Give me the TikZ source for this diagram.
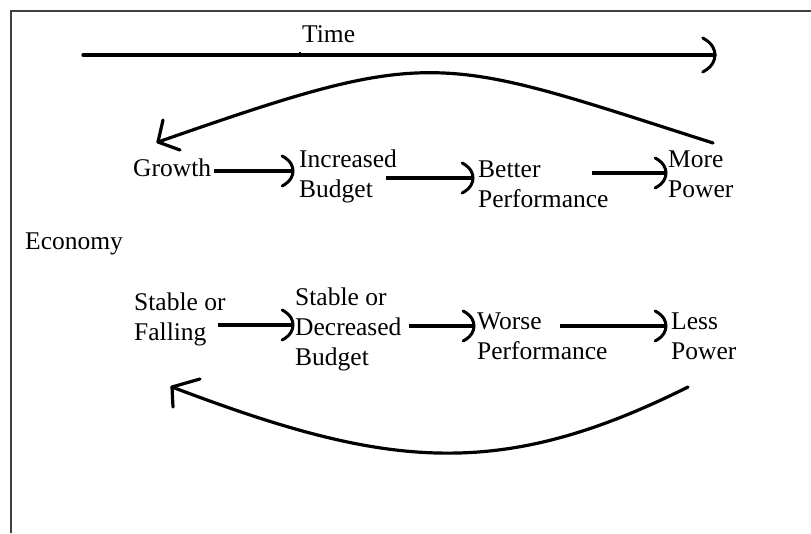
\documentclass[tikz,border=0pt]{standalone}
\usepackage{fontspec}
\setmainfont{Liberation Serif}
\usetikzlibrary{calc,decorations.markings}
\tikzset{
  lbl/.style={inner sep=0pt, font=\fontsize{25.5}{30}\selectfont},
  mlbl/.style={lbl, align=left, anchor=north west},
  slbl/.style={lbl, anchor=base west},
  hd/.style={postaction={decorate}, decoration={markings, mark=at position 1 with {\draw[line width=3pt, line cap=round] (-0.36*#1,-0.5*#1) .. controls (-0.06*#1,-0.34*#1) and (0,-0.14*#1) .. (0,0) .. controls (0,0.14*#1) and (-0.06*#1,0.34*#1) .. (-0.36*#1,0.5*#1);}}},
  conn/.style={line width=3.2pt, hd=30},
  loopline/.style={line width=3.2pt, line cap=round},
  barb/.style={line width=3.2pt, line cap=round},
  frameline/.style={line width=2pt, draw=black!75},
}
\begin{document}
\begin{tikzpicture}[x=1pt,y=-1pt]
\useasboundingbox (0,0) rectangle (811,533);
\fill[white] (0,0) rectangle (811,533);
% frame
\draw[frameline] (11,533) -- (11,11) -- (811,11);

% time axis
\node[slbl] (time) at (302,42) {Time};
\coordinate (t0) at (83,55);
\coordinate (t1) at (715,55);
\draw[line width=3.2pt, line cap=round, hd=34] (t0) -- (t1);
\draw[line width=1.8pt] (300,55) -- (300,51.5);

% top row
\node[slbl] (growth) at (133,176) {Growth};
\node[mlbl] (incr) at (299,150) {Increased\\Budget};
\node[mlbl] (better) at (478,161) {Better\\Performance};
\node[mlbl] (more) at (668,151) {More\\Power};

\draw[conn] ($(growth.base west)+(81,-5)$) -- ($(incr.north west)+(-6,21)$);
\draw[conn] ($(incr.north west)+(87,28)$) -- ($(better.north west)+(-5,17)$);
\draw[conn] ($(better.north west)+(114,12)$) -- ($(more.north west)+(-2,22)$);

% top feedback arc
\coordinate (tas) at (713,143);
\coordinate (tae) at (158,142);
\draw[loopline] (tas) .. controls (435,54) and (436,45) .. (tae);
\draw[barb] (tae) -- ++(5,-22);
\draw[barb] (tae) -- ++(22,8);

% economy
\node[slbl] (econ) at (25,249) {Economy};

% bottom row
\node[mlbl] (sf) at (134,293) {Stable or\\Falling};
\node[mlbl] (sd) at (295,288) {Stable or\\Decreased\\Budget};
\node[mlbl] (worse) at (477,313) {Worse\\Performance};
\node[mlbl] (less) at (671,313) {Less\\Power};

\draw[conn] ($(sf.north west)+(84,32)$) -- ($(sd.north west)+(-2,37)$);
\draw[conn] ($(sd.north west)+(114,38)$) -- ($(worse.north west)+(-3,13)$);
\draw[conn] ($(worse.north west)+(83,13)$) -- ($(less.north west)+(-5,13)$);

% bottom feedback arc
\coordinate (bas) at (688,387);
\coordinate (bae) at (172,387);
\draw[loopline] (bas) .. controls (496,483) and (383,467) .. (bae);
\draw[barb] (bae) -- ++(28,-8);
\draw[barb] (bae) -- ++(1,20);
\end{tikzpicture}
\end{document}
